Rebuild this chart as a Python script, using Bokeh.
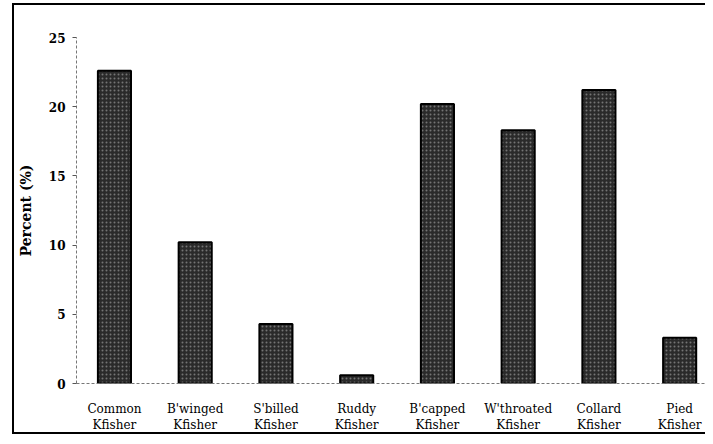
from bokeh.plotting import figure
from bokeh.models import Range1d, FixedTicker, ColumnDataSource
from bokeh.embed import file_html
from bokeh.resources import INLINE

categories = ["Common\nKfisher", "B'winged\nKfisher", "S'billed\nKfisher", "Ruddy\nKfisher",
              "B'capped\nKfisher", "W'throated\nKfisher", "Collard\nKfisher", "Pied\nKfisher"]
percent = [22.6, 10.2, 4.3, 0.6, 20.2, 18.3, 21.2, 3.3]
y_ticks = [0, 5, 10, 15, 20, 25]

xpos = list(range(len(categories)))
src = ColumnDataSource(dict(x=xpos, top=percent))

p = figure(width=705, height=436, output_backend="svg", toolbar_location=None,
           x_range=Range1d(-0.47, 7.32), y_range=Range1d(0, 25),
           min_border_left=76, min_border_top=37, min_border_bottom=53, min_border_right=0)
p.outline_line_color = None
p.xgrid.visible = False
p.ygrid.visible = False
p.border_fill_color = None
p.background_fill_color = "white"
# outer chart box (left, top and bottom edges) drawn as page background behind the canvas
p.styles = {"background": ("linear-gradient(#000,#000) 12px 3px / 2px 431px no-repeat, "
                           "linear-gradient(#000,#000) 12px 3px / 700px 2px no-repeat, "
                           "linear-gradient(#000,#000) 12px 432px / 700px 2px no-repeat, #fff")}

p.vbar(x="x", top="top", width=0.41, bottom=0, source=src,
       fill_color="#2a2a2a", line_color="black", line_width=2,
       hatch_pattern="dot", hatch_color="white", hatch_alpha=0.35, hatch_scale=4)

# y axis
ya = p.yaxis[0]
ya.ticker = FixedTicker(ticks=y_ticks)
ya.axis_label = "Percent (%)"
ya.axis_label_text_font = "DejaVu Serif"
ya.axis_label_text_font_style = "bold"
ya.axis_label_text_font_size = "14px"
ya.axis_label_text_color = "black"
ya.axis_label_standoff = 12
ya.major_label_text_font = "DejaVu Serif"
ya.major_label_text_font_style = "bold"
ya.major_label_text_font_size = "12px"
ya.major_label_text_color = "black"
ya.major_label_standoff = 7
ya.axis_line_color = "#777777"
ya.axis_line_dash = "3 2"
ya.major_tick_line_color = "#555555"
ya.major_tick_out = 4
ya.major_tick_in = 0
ya.minor_tick_line_color = None

# x axis
xa = p.xaxis[0]
xa.ticker = FixedTicker(ticks=xpos)
xa.major_label_overrides = {i: c for i, c in zip(xpos, categories)}
xa.major_label_text_font = "DejaVu Serif"
xa.major_label_text_font_size = "12px"
xa.major_label_text_color = "black"
xa.major_label_standoff = 12
xa.axis_line_color = "#777777"
xa.axis_line_dash = "3 2"
xa.major_tick_line_color = None
xa.minor_tick_line_color = None

open("out.html", "w").write(file_html(p, INLINE))
